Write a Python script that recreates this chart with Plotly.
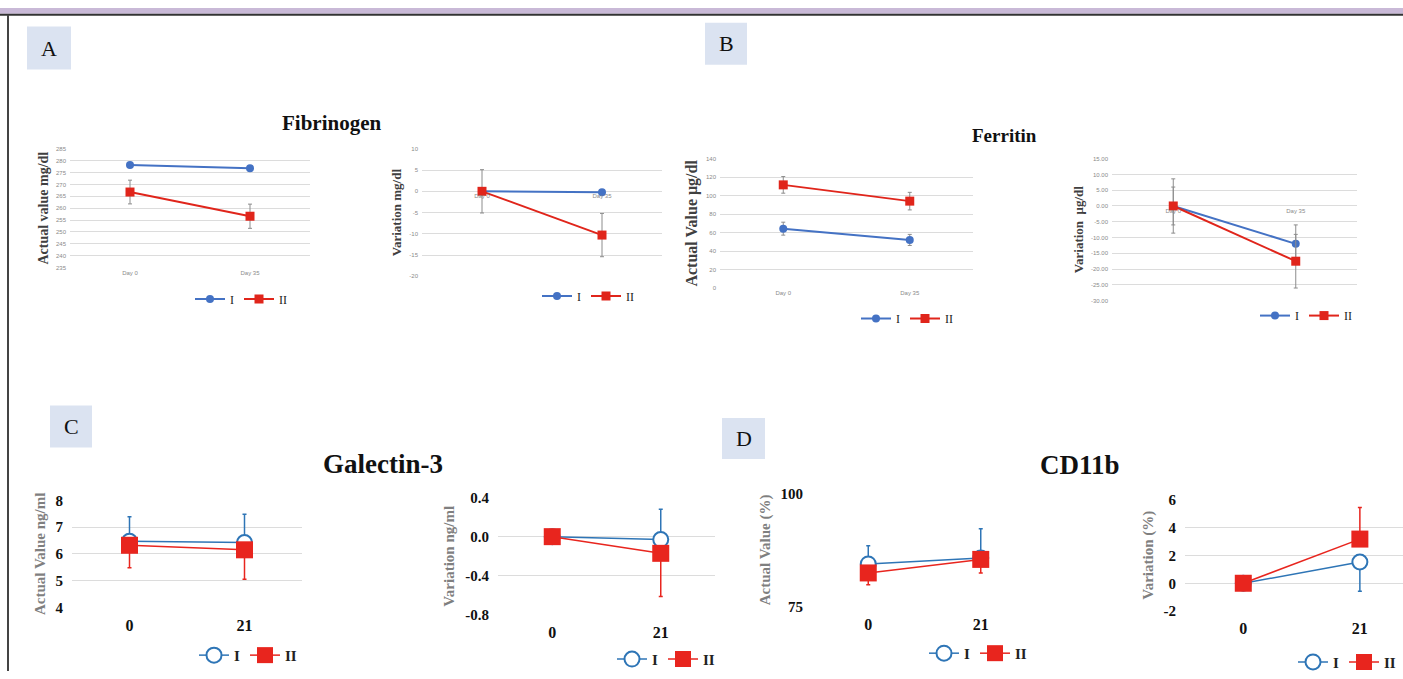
import plotly.graph_objects as go

W, H = 1403, 679

# ---------------- data ----------------
days_top = ["Day 0", "Day 35"]
days_bot = ["0", "21"]
groups = ["I", "II"]

fib_act_I = [278.2, 276.8]
fib_act_II = [266.8, 256.6]
fib_act_II_err = [5.0, 5.1]

fib_var_I = [0.0, -0.2]
fib_var_II = [0.0, -10.3]
fib_var_II_err = [5.1, 5.1]

fer_act_I = [64.2, 52.0]
fer_act_I_err = [7.0, 6.0]
fer_act_II = [111.6, 94.0]
fer_act_II_err = [9.0, 9.5]

fer_var_I = [0.0, -12.0]
fer_var_I_err = [6.0, 6.0]
fer_var_II = [0.0, -17.5]
fer_var_II_err = [8.6, 8.5]

gal_act_I = [6.47, 6.42]
gal_act_I_up = [0.92, 1.06]
gal_act_II = [6.32, 6.15]
gal_act_II_dn = [0.84, 1.1]

gal_var_I = [0.0, -0.03]
gal_var_I_up = [0.0, 0.31]
gal_var_II = [0.0, -0.17]
gal_var_II_dn = [0.0, 0.44]

cd_act_I = [84.4, 85.7]
cd_act_I_up = [4.0, 6.5]
cd_act_II = [82.4, 85.4]
cd_act_II_dn = [2.6, 3.0]

cd_var_I = [0.0, 1.52]
cd_var_I_dn = [0.0, 2.1]
cd_var_II = [0.0, 3.16]
cd_var_II_up = [0.0, 2.26]

# tick values
fib_act_ticks = [235, 240, 245, 250, 255, 260, 265, 270, 275, 280, 285]
fib_var_ticks = [-20, -15, -10, -5, 0, 5, 10]
fer_act_ticks = [0, 20, 40, 60, 80, 100, 120, 140]
fer_var_ticks = [-30, -25, -20, -15, -10, -5, 0, 5, 10, 15]
gal_act_ticks = [4, 5, 6, 7, 8]
gal_var_ticks = [-0.8, -0.4, 0.0, 0.4]
cd_act_ticks = [75, 100]
cd_var_ticks = [-2, 0, 2, 4, 6]

# ---------------- style ----------------
TOP_BLUE = "#4472c4"
TOP_RED = "#e0251b"
BOT_BLUE = "#2e75b6"
BOT_RED = "#e8251e"
GRID = "#dcdcdc"
SERIF = "Liberation Serif"
SANS = "Liberation Sans"


def px_x(p):
    return p / W


def px_y(p):
    return 1 - p / H


fig = go.Figure()
layout = {}


def add_panel(n, box, xcats, yticks, yfmt, ytitle, tsize, series, style, xrange=(-0.5, 1.5),
              zero_axis=False, legend_pos=None):
    x0, y0, x1, y1 = box
    xa = "xaxis" if n == 1 else f"xaxis{n}"
    ya = "yaxis" if n == 1 else f"yaxis{n}"
    xref = "x" if n == 1 else f"x{n}"
    yref = "y" if n == 1 else f"y{n}"
    lg = "legend" if n == 1 else f"legend{n}"
    ymin, ymax = yticks[0], yticks[-1]
    span = ymax - ymin
    ydom = [px_y(y1), px_y(y0)]
    top = style == "top"
    if top:
        tickfont = dict(family=SANS, size=6, color="#8a8a8a")
        xtickfont = dict(family=SANS, size=6, color="#8a8a8a")
        tfont = dict(family=SERIF, size=tsize, color="#404040", weight="bold")
    else:
        tickfont = dict(family=SERIF, size=15, color="#111111", weight="bold")
        xtickfont = dict(family=SERIF, size=16, color="#111111", weight="bold")
        tfont = dict(family=SERIF, size=tsize, color="#7f7f7f", weight="bold")
    xdict = dict(domain=[px_x(x0), px_x(x1)], type="category", categoryorder="array",
                 categoryarray=xcats, range=list(xrange), showgrid=False, zeroline=False,
                 showline=False, ticks="", tickfont=xtickfont, fixedrange=True)
    if zero_axis:
        pos = ydom[0] + (0 - ymin) / span * (ydom[1] - ydom[0])
        xdict.update(anchor="free", position=pos)
    else:
        xdict.update(anchor=yref)
    if not top:
        xdict.update(ticklabelstandoff=6)
    layout[xa] = xdict
    layout[ya] = dict(domain=ydom, range=[ymin - span * 0.002, ymax + span * 0.002],
                      tickvals=yticks, ticktext=[yfmt(v) for v in yticks], showgrid=True,
                      gridcolor=GRID, gridwidth=1, zeroline=False, showline=False, ticks="",
                      tickfont=tickfont, anchor=xref, fixedrange=True,
                      title=dict(text=ytitle, font=tfont, standoff=4 if top else 6),
                      ticklabelstandoff=3 if top else 8)
    for s in series:
        fig.add_trace(go.Scatter(x=xcats, y=s["y"], name=s["name"], xaxis=xref, yaxis=yref,
                                 mode="lines+markers", legend=lg,
                                 line=dict(color=s["color"], width=s.get("lw", 2)),
                                 marker=s["marker"], error_y=s.get("err"), cliponaxis=False))
    lx, ly, lsize = legend_pos
    layout[lg] = dict(x=px_x(lx), y=px_y(ly), xanchor="right", yanchor="middle",
                      orientation="h", bgcolor="rgba(0,0,0,0)", itemwidth=30,
                      font=dict(family=SERIF, size=lsize, color="#222222",
                                weight="normal" if top else "bold"),
                      tracegroupgap=0, itemclick=False)


def fmt_int(v):
    return f"{v:g}"


def fmt_2(v):
    return f"{v:.2f}"


def fmt_1(v):
    return f"{v:.1f}"


def top_err(arr):
    return dict(type="data", array=arr, visible=True, color="#8c8c8c", thickness=1, width=2)


def bot_err(color, plus=None, minus=None):
    d = dict(type="data", symmetric=False, visible=True, color=color, thickness=1.5, width=2)
    d["array"] = plus if plus is not None else [0, 0]
    d["arrayminus"] = minus if minus is not None else [0, 0]
    return d


top_I_marker = dict(symbol="circle", size=8, color=TOP_BLUE)
top_II_marker = dict(symbol="square", size=9, color=TOP_RED)
bot_I_marker = dict(symbol="circle", size=15, color="white", line=dict(color=BOT_BLUE, width=2))
bot_II_marker = dict(symbol="square", size=17, color=BOT_RED, line=dict(color=BOT_RED, width=0))

# Panel A
add_panel(1, (70, 144, 310, 266), days_top, fib_act_ticks, fmt_int, "Actual value mg/dl", 14,
          [dict(name="I", y=fib_act_I, color=TOP_BLUE, marker=top_I_marker),
           dict(name="II", y=fib_act_II, color=TOP_RED, marker=top_II_marker,
                err=top_err(fib_act_II_err))],
          "top", legend_pos=(292, 298, 12))
add_panel(2, (422, 144, 662, 275), days_top, fib_var_ticks, fmt_int, "Variation mg/dl", 13,
          [dict(name="I", y=fib_var_I, color=TOP_BLUE, marker=top_I_marker),
           dict(name="II", y=fib_var_II, color=TOP_RED, marker=top_II_marker,
                err=top_err(fib_var_II_err))],
          "top", zero_axis=True, legend_pos=(639, 295, 12))
# Panel B
add_panel(3, (720, 154, 973, 287), days_top, fer_act_ticks, fmt_int, "Actual Value μg/dl", 16,
          [dict(name="I", y=fer_act_I, color=TOP_BLUE, marker=top_I_marker,
                err=top_err(fer_act_I_err)),
           dict(name="II", y=fer_act_II, color=TOP_RED, marker=top_II_marker,
                err=top_err(fer_act_II_err))],
          "top", legend_pos=(958, 318, 12))
add_panel(4, (1112, 154, 1357, 300), days_top, fer_var_ticks, fmt_2, "Variation  μg/dl", 13,
          [dict(name="I", y=fer_var_I, color=TOP_BLUE, marker=top_I_marker,
                err=top_err(fer_var_I_err)),
           dict(name="II", y=fer_var_II, color=TOP_RED, marker=top_II_marker,
                err=top_err(fer_var_II_err))],
          "top", zero_axis=True, legend_pos=(1357, 315, 12))
# Panel C
add_panel(5, (72, 504, 302, 614), days_bot, gal_act_ticks, fmt_int, "Actual Value ng/ml", 15,
          [dict(name="I", y=gal_act_I, color=BOT_BLUE, marker=bot_I_marker, lw=1.5,
                err=bot_err(BOT_BLUE, plus=gal_act_I_up)),
           dict(name="II", y=gal_act_II, color=BOT_RED, marker=bot_II_marker, lw=1.5,
                err=bot_err(BOT_RED, minus=gal_act_II_dn))],
          "bot", legend_pos=(302, 663, 15))
add_panel(6, (498, 501, 715, 622), days_bot, gal_var_ticks, fmt_1, "Variation ng/ml", 15,
          [dict(name="I", y=gal_var_I, color=BOT_BLUE, marker=bot_I_marker, lw=1.5,
                err=bot_err(BOT_BLUE, plus=gal_var_I_up)),
           dict(name="II", y=gal_var_II, color=BOT_RED, marker=bot_II_marker, lw=1.5,
                err=bot_err(BOT_RED, minus=gal_var_II_dn))],
          "bot", legend_pos=(720, 667, 15))
# Panel D
add_panel(7, (812, 497, 1037, 613), days_bot, cd_act_ticks, fmt_int, "Actual Value (%)", 15,
          [dict(name="I", y=cd_act_I, color=BOT_BLUE, marker=bot_I_marker, lw=1.5,
                err=bot_err(BOT_BLUE, plus=cd_act_I_up)),
           dict(name="II", y=cd_act_II, color=BOT_RED, marker=bot_II_marker, lw=1.5,
                err=bot_err(BOT_RED, minus=cd_act_II_dn))],
          "bot", legend_pos=(1032, 661, 15))
add_panel(8, (1185, 503, 1403, 618), days_bot, cd_var_ticks, fmt_int, "Variation (%)", 15,
          [dict(name="I", y=cd_var_I, color=BOT_BLUE, marker=bot_I_marker, lw=1.5,
                err=bot_err(BOT_BLUE, minus=cd_var_I_dn)),
           dict(name="II", y=cd_var_II, color=BOT_RED, marker=bot_II_marker, lw=1.5,
                err=bot_err(BOT_RED, plus=cd_var_II_up))],
          "bot", xrange=(-0.5, 1.37), legend_pos=(1401, 670, 15))

# ---------------- decorations ----------------
shapes = [
    dict(type="rect", xref="paper", yref="paper", x0=0, x1=1, y0=px_y(6), y1=1,
         fillcolor="#c9b9d7", line=dict(width=0), layer="below"),
    dict(type="line", xref="paper", yref="paper", x0=0, x1=1, y0=px_y(7), y1=px_y(7),
         line=dict(color="#333333", width=2)),
    dict(type="line", xref="paper", yref="paper", x0=px_x(8), x1=px_x(8), y0=0, y1=px_y(7),
         line=dict(color="#444444", width=2)),
]
annotations = []
for letter, (bx0, by0, bx1, by1) in [("A", (27, 19, 71, 63)), ("B", (705, 15, 747, 58)),
                                      ("C", (50, 407, 92, 450)), ("D", (722, 420, 765, 462))]:
    shapes.append(dict(type="rect", xref="paper", yref="paper", x0=px_x(bx0), x1=px_x(bx1),
                       y0=px_y(by1), y1=px_y(by0), fillcolor="#dbe3f1", line=dict(width=0),
                       layer="below"))
    annotations.append(dict(text=letter, xref="paper", yref="paper", x=px_x((bx0 + bx1) / 2),
                            y=px_y((by0 + by1) / 2), showarrow=False, xanchor="center",
                            yanchor="middle", font=dict(family=SERIF, size=22, color="#111111")))

for text, cx, cy, size in [("Fibrinogen", 331, 118, 21), ("Ferritin", 1005, 131, 19),
                           ("Galectin-3", 383, 467, 27), ("CD11b", 1080, 468, 27)]:
    annotations.append(dict(text=f"<b>{text}</b>", xref="paper", yref="paper", x=px_x(cx),
                            y=px_y(cy), showarrow=False, xanchor="center", yanchor="middle",
                            font=dict(family=SERIF, size=size, color="#111111")))

layout.update(dict(width=W, height=H, margin=dict(l=0, r=0, t=0, b=0),
                   paper_bgcolor="white", plot_bgcolor="white", showlegend=True,
                   shapes=shapes, annotations=annotations))
fig.update_layout(**layout)
fig.write_html("out.html", config=dict(displayModeBar=False),
               post_script="document.body.style.margin='0';document.body.style.overflow='hidden';")
